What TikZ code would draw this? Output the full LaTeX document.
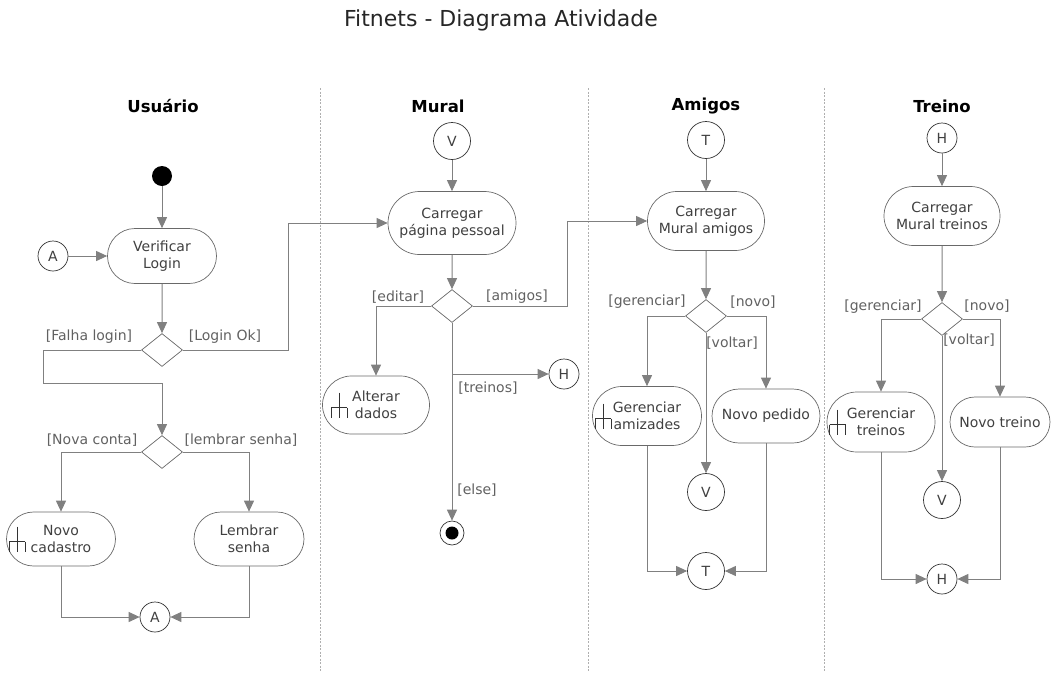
\documentclass[tikz,border=0pt]{standalone}
\usepackage{fontspec}
\setmainfont{DejaVu Sans}
\usetikzlibrary{shapes.geometric, shapes.misc, positioning, arrows.meta}
\definecolor{flowgray}{RGB}{128,128,128}
\definecolor{boxgray}{RGB}{105,105,105}
\definecolor{txtgray}{RGB}{64,64,64}
\definecolor{lanegray}{RGB}{175,175,175}

\begin{document}
\begin{tikzpicture}[
    x=1pt, y=-1pt,
    every node/.style={font=\fontsize{14}{16.8}\selectfont, text=txtgray},
    action/.style={draw=boxgray, line width=0.7pt, rounded rectangle, align=center, inner sep=0pt},
    decision/.style={draw=boxgray, line width=0.7pt, diamond, minimum width=41pt, minimum height=33pt, inner sep=0pt},
    conn/.style={draw=black!80, line width=0.7pt, circle, minimum size=30pt, inner sep=0pt},
    bigconn/.style={conn, minimum size=37pt},
    initnode/.style={circle, fill=black, minimum size=20pt, inner sep=0pt},
    finalnode/.style={circle, draw=black!80, line width=0.7pt, minimum size=24pt, inner sep=0pt,
        path picture={\fill[black] (path picture bounding box.center) circle (6.5pt);}},
    guard/.style={text=black!62},
    lanehead/.style={font=\fontsize{16.5}{19}\selectfont\bfseries, text=black},
    flow/.style={draw=flowgray, line width=1pt, -{Triangle[length=11pt,width=10pt]}},
    lane/.style={draw=lanegray, dash pattern=on 2pt off 1.5pt, line width=0.8pt},
    rake/.pic={\draw[black!80, line width=0.8pt] (0,-12.5) -- (0,12.5) (-8,2.5) -- (8,2.5)
        (-8,2.5) -- (-8,12.5) (8,2.5) -- (8,12.5);}
]
\useasboundingbox (0,0) rectangle (1055,678);

\node[font=\fontsize{22}{26}\selectfont, text=black!85] (titulo) at (501,20) {Fitnets - Diagrama Atividade};

\draw[lane] (320,88) -- (320,672);
\draw[lane] (588,88) -- (588,672);
\draw[lane] (824,88) -- (824,672);

\node[lanehead] (hUsuario) at (163,106) {Usuário};
\node[lanehead] (hMural) at (438,106) {Mural};
\node[lanehead] (hAmigos) at (706,106) {Amigos};
\node[lanehead] (hTreino) at (942,106) {Treino};

\node[initnode] (ini) at (162,176) {};
\node[action, minimum width=109pt, minimum height=55pt] (verif) at (162,256) {Verificar\\Login};
\node[conn] (conA1) at (53,256) {A};
\node[decision] (dec1) at (162,350) {};
\node[decision] (dec2) at (162,452) {};
\node[action, minimum width=109pt, minimum height=54pt] (novocad) at (61,539) {Novo\\cadastro};
\node[action, minimum width=110pt, minimum height=54pt] (lembrar) at (249,539) {Lembrar\\senha};
\node[conn] (conA2) at (155,617) {A};
\pic at ([xshift=11pt]novocad.west) {rake};

\node[guard] (gFalha) at (89,337) {[Falha login]};
\node[guard] (gOk) at (225,337) {[Login Ok]};
\node[guard] (gNova) at (92,440) {[Nova conta]};
\node[guard] (gLembrar) at (241,440) {[lembrar senha]};

\coordinate (bendFalha) at (43,383);
\coordinate (bendOk) at (288,223);

\draw[flow] (ini) -- (verif);
\draw[flow] (conA1) -- (verif);
\draw[flow] (verif) -- (dec1);
\draw[flow] (dec1.west) -| (bendFalha) -| (dec2.north);
\draw[flow] (dec2.west) -| (novocad.north);
\draw[flow] (dec2.east) -| (lembrar.north);
\draw[flow] (novocad.south) |- (conA2.west);
\draw[flow] (lembrar.south) |- (conA2.east);

\node[bigconn] (conV1) at (452,141) {V};
\node[action, minimum width=128pt, minimum height=63pt] (carPag) at (452,223) {Carregar\\página pessoal};
\node[decision] (dec3) at (452,306) {};
\node[action, minimum width=107pt, minimum height=58pt] (alterar) at (376,405) {Alterar\\dados};
\node[conn] (conH1) at (564,374) {H};
\node[finalnode] (fim) at (452,533) {};
\pic at ([xshift=17pt]alterar.west) {rake};

\node[guard] (gEditar) at (398,297) {[editar]};
\node[guard] (gAmigos) at (517,297) {[amigos]};
\node[guard] (gTreinos) at (488,388) {[treinos]};
\node[guard] (gElse) at (477,490) {[else]};

\coordinate (bendAm) at (567,221);

\draw[flow] (dec1.east) -| (bendOk) -- (carPag.west |- bendOk);
\draw[flow] (conV1) -- (carPag);
\draw[flow] (carPag) -- (dec3);
\draw[flow] (dec3.west) -| (alterar.north);
\draw[flow] (dec3.south) -- (fim);
\draw[flow] (dec3.south |- conH1) -- (conH1);

\node[bigconn] (conT1) at (706,140) {T};
\node[action, minimum width=117pt, minimum height=59pt] (carAm) at (706,221) {Carregar\\Mural amigos};
\node[decision] (dec4) at (706,316) {};
\node[action, minimum width=109pt, minimum height=59pt] (gerAm) at (647,416) {Gerenciar\\amizades};
\node[action, minimum width=108pt, minimum height=54pt] (novoPed) at (766,416) {Novo pedido};
\node[bigconn] (conV2) at (706,492) {V};
\node[bigconn] (conT2) at (706,571) {T};
\pic at ([xshift=11pt]gerAm.west) {rake};

\node[guard] (gGerAm) at (647,302) {[gerenciar]};
\node[guard] (gNovoAm) at (753,302) {[novo]};
\node[guard] (gVoltarAm) at (732,343) {[voltar]};

\draw[flow] (dec3.east) -| (bendAm) -- (carAm.west);
\draw[flow] (conT1) -- (carAm);
\draw[flow] (carAm) -- (dec4);
\draw[flow] (dec4.west) -| (gerAm.north);
\draw[flow] (dec4.east) -| (novoPed.north);
\draw[flow] (dec4) -- (conV2);
\draw[flow] (gerAm.south) |- (conT2.west);
\draw[flow] (novoPed.south) |- (conT2.east);

\node[conn] (conH2) at (942,138) {H};
\node[action, minimum width=116pt, minimum height=59pt] (carTr) at (942,216) {Carregar\\Mural treinos};
\node[decision] (dec5) at (942,319) {};
\node[action, minimum width=108pt, minimum height=60pt] (gerTr) at (881,422) {Gerenciar\\treinos};
\node[action, minimum width=100pt, minimum height=50pt] (novoTr) at (1000,422) {Novo treino};
\node[bigconn] (conV3) at (942,500) {V};
\node[conn] (conH3) at (942,579) {H};
\pic at ([xshift=11pt]gerTr.west) {rake};

\node[guard] (gGerTr) at (883,307) {[gerenciar]};
\node[guard] (gNovoTr) at (987,306) {[novo]};
\node[guard] (gVoltarTr) at (969,340) {[voltar]};

\draw[flow] (conH2) -- (carTr);
\draw[flow] (carTr) -- (dec5);
\draw[flow] (dec5.west) -| (gerTr.north);
\draw[flow] (dec5.east) -| (novoTr.north);
\draw[flow] (dec5) -- (conV3);
\draw[flow] (gerTr.south) |- (conH3.west);
\draw[flow] (novoTr.south) |- (conH3.east);
\end{tikzpicture}
\end{document}
